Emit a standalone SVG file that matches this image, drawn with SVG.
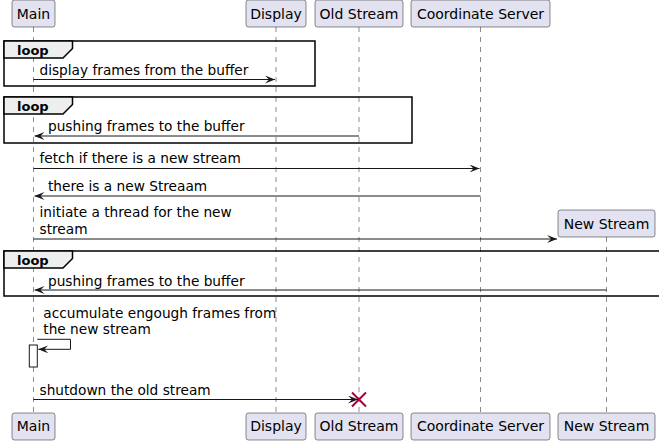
<svg xmlns="http://www.w3.org/2000/svg" width="659" height="442" viewBox="0 0 659 442">
  <style>
    .box { fill: #E2E2F0; stroke: #181818; stroke-width: 0.5; }
    .pname { font-family: "DejaVu Sans", sans-serif; font-size: 14px; fill: #000000; }
    .life { stroke: #181818; stroke-width: 0.5; stroke-dasharray: 5,5; fill: none; }
    .msg { stroke: #181818; stroke-width: 1; fill: none; }
    .mtext { font-family: "DejaVu Sans", sans-serif; font-size: 13.7px; fill: #000000; }
    .frame { fill: none; stroke: #000000; stroke-width: 1.5; }
    .tab { fill: #EEEEEE; stroke: #000000; stroke-width: 1.5; }
    .ftext { font-family: "DejaVu Sans", sans-serif; font-size: 13px; font-weight: bold; fill: #000000; }
  </style>
  <defs>
    <marker id="arrow" markerWidth="10" markerHeight="8" refX="10" refY="4" orient="auto" markerUnits="userSpaceOnUse">
      <path d="M0,0 L10,4 L0,8 L4,4 Z" fill="#181818"/>
    </marker>
  </defs>
  <rect width="659" height="442" fill="#FFFFFF"/>

  <!-- lifelines -->
  <g id="lifelines">
    <line class="life" x1="33.5" y1="27" x2="33.5" y2="413"/>
    <line class="life" x1="276" y1="27" x2="276" y2="413"/>
    <line class="life" x1="359" y1="27" x2="359" y2="413"/>
    <line class="life" x1="480.5" y1="27" x2="480.5" y2="413"/>
    <line class="life" x1="606.5" y1="237" x2="606.5" y2="413"/>
  </g>

  <!-- combined fragments -->
  <g id="loop1">
    <rect class="frame" x="4" y="41" width="311" height="45"/>
    <path class="tab" d="M4,41 L72.5,41 L72.5,48.5 L63,58 L4,58 Z"/>
    <text class="ftext" x="17" y="55">loop</text>
  </g>
  <g id="loop2">
    <rect class="frame" x="4" y="97" width="408" height="46"/>
    <path class="tab" d="M4,97 L72.5,97 L72.5,104.5 L63,114 L4,114 Z"/>
    <text class="ftext" x="17" y="111">loop</text>
  </g>
  <g id="loop3">
    <rect class="frame" x="4" y="251" width="670" height="45"/>
    <path class="tab" d="M4,251 L72.5,251 L72.5,258.5 L63,268 L4,268 Z"/>
    <text class="ftext" x="17" y="265">loop</text>
  </g>

  <!-- participants -->
  <g id="main">
    <rect class="box" x="12" y="0" width="43" height="27" rx="2.5"/>
    <text class="pname" x="33.5" y="19.3" text-anchor="middle">Main</text>
    <rect class="box" x="12" y="413" width="43" height="27" rx="2.5"/>
    <text class="pname" x="33.5" y="431" text-anchor="middle">Main</text>
    <rect x="29.3" y="345" width="8" height="22" fill="#FFFFFF" stroke="#181818" stroke-width="1"/>
  </g>
  <g id="display">
    <rect class="box" x="246" y="0" width="60" height="27" rx="2.5"/>
    <text class="pname" x="276" y="19.3" text-anchor="middle">Display</text>
    <rect class="box" x="246" y="413" width="60" height="27" rx="2.5"/>
    <text class="pname" x="276" y="431" text-anchor="middle">Display</text>
  </g>
  <g id="old-stream">
    <rect class="box" x="315" y="0" width="88" height="27" rx="2.5"/>
    <text class="pname" x="359" y="19.3" text-anchor="middle">Old Stream</text>
    <rect class="box" x="315" y="413" width="88" height="27" rx="2.5"/>
    <text class="pname" x="359" y="431" text-anchor="middle">Old Stream</text>
    <path d="M352,392.5 L366,406.5 M352,406.5 L366,392.5" stroke="#A80036" stroke-width="2" fill="none"/>
  </g>
  <g id="coordinate-server">
    <rect class="box" x="411" y="0" width="139" height="27" rx="2.5"/>
    <text class="pname" x="480.5" y="19.3" text-anchor="middle">Coordinate Server</text>
    <rect class="box" x="411" y="413" width="139" height="27" rx="2.5"/>
    <text class="pname" x="480.5" y="431" text-anchor="middle">Coordinate Server</text>
  </g>
  <g id="new-stream">
    <rect class="box" x="558" y="210" width="97" height="27" rx="2.5"/>
    <text class="pname" x="606.5" y="229" text-anchor="middle">New Stream</text>
    <rect class="box" x="558" y="413" width="97" height="27" rx="2.5"/>
    <text class="pname" x="606.5" y="431" text-anchor="middle">New Stream</text>
  </g>

  <!-- messages -->
  <g id="connectors">
    <line class="msg" x1="33.5" y1="79.5" x2="275" y2="79.5" marker-end="url(#arrow)"/>
    <text class="mtext" x="39.5" y="75">display frames from the buffer</text>

    <line class="msg" x1="359" y1="136" x2="34.5" y2="136" marker-end="url(#arrow)"/>
    <text class="mtext" x="48" y="131">pushing frames to the buffer</text>

    <line class="msg" x1="33.5" y1="168.5" x2="479.5" y2="168.5" marker-end="url(#arrow)"/>
    <text class="mtext" x="39.5" y="163">fetch if there is a new stream</text>

    <line class="msg" x1="480.5" y1="196" x2="34.5" y2="196" marker-end="url(#arrow)"/>
    <text class="mtext" x="48" y="190.5">there is a new Streaam</text>

    <line class="msg" x1="33.5" y1="239" x2="557" y2="239" marker-end="url(#arrow)"/>
    <text class="mtext" x="39.5" y="217">initiate a thread for the new</text>
    <text class="mtext" x="39.5" y="233.5">stream</text>

    <line class="msg" x1="606.5" y1="290" x2="34.5" y2="290" marker-end="url(#arrow)"/>
    <text class="mtext" x="48" y="285.5">pushing frames to the buffer</text>

    <path class="msg" d="M37.3,339.3 L70.5,339.3 L70.5,349.3 L38.3,349.3" marker-end="url(#arrow)"/>
    <text class="mtext" x="43.3" y="317.5">accumulate engough frames from</text>
    <text class="mtext" x="43.3" y="333.5">the new stream</text>

    <line class="msg" x1="33.5" y1="399.5" x2="358" y2="399.5" marker-end="url(#arrow)"/>
    <text class="mtext" x="39.5" y="394.5">shutdown the old stream</text>
  </g>
</svg>
